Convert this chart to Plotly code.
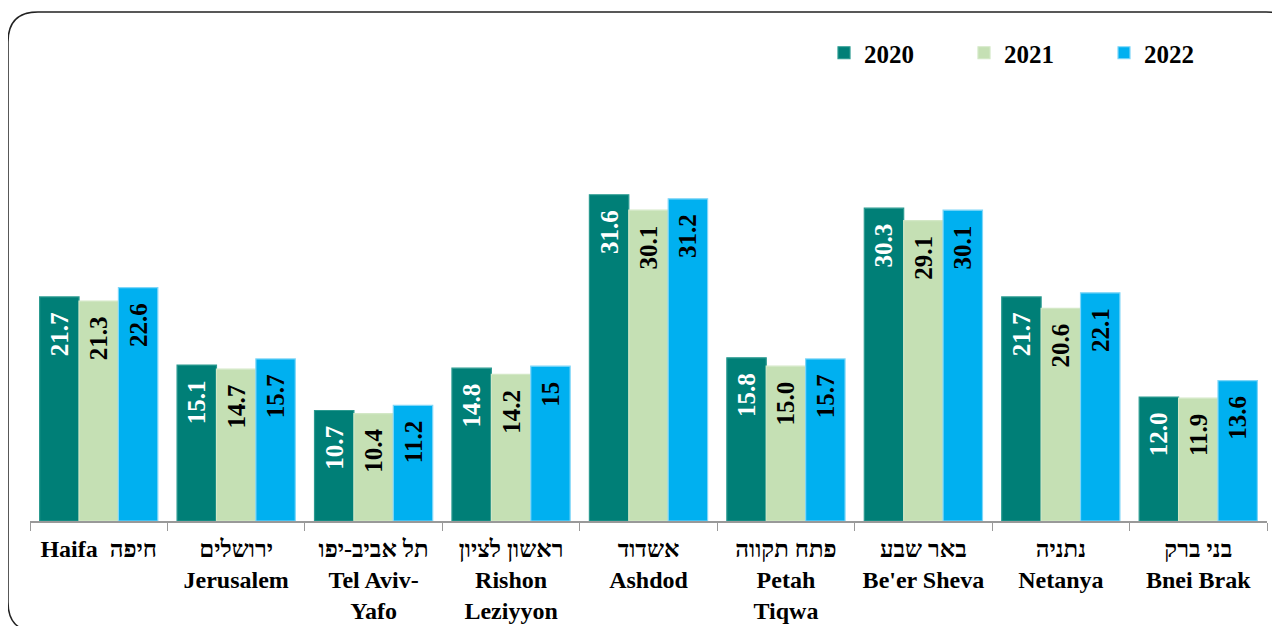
import plotly.graph_objects as go

categories = [
    "Haifa  חיפה",
    "ירושלים<br>Jerusalem",
    "תל אביב-יפו<br>Tel Aviv-<br>Yafo",
    "ראשון לציון<br>Rishon<br>Leziyyon",
    "אשדוד<br>Ashdod",
    "פתח תקווה<br>Petah<br>Tiqwa",
    "באר שבע<br>Be'er Sheva",
    "נתניה<br>Netanya",
    "בני ברק<br>Bnei Brak",
]
years = ["2020", "2021", "2022"]
v2020 = [21.7, 15.1, 10.7, 14.8, 31.6, 15.8, 30.3, 21.7, 12.0]
v2021 = [21.3, 14.7, 10.4, 14.2, 30.1, 15.0, 29.1, 20.6, 11.9]
v2022 = [22.6, 15.7, 11.2, 15.0, 31.2, 15.7, 30.1, 22.1, 13.6]
t2020 = ["21.7", "15.1", "10.7", "14.8", "31.6", "15.8", "30.3", "21.7", "12.0"]
t2021 = ["21.3", "14.7", "10.4", "14.2", "30.1", "15.0", "29.1", "20.6", "11.9"]
t2022 = ["22.6", "15.7", "11.2", "15", "31.2", "15.7", "30.1", "22.1", "13.6"]

colors = ["#007F77", "#C5E0B4", "#00B0F0"]
edge = ["#2A9A90", "#D3E8C6", "#7FD6F8"]
txtcol = ["white", "black", "black"]
FONT = "Liberation Serif, Times New Roman, serif"
TICKFONT = "Liberation Serif, Liberation Sans, DejaVu Sans, serif"

OFF = 8  # page body margin
W, H = 1280, 626
L, R, B, T = 22, 21, 113, 100
pw, ph = W - L - R, H - T - B

fig = go.Figure()
for y, vals, txt, c, e, tc in zip(years, [v2020, v2021, v2022], [t2020, t2021, t2022], colors, edge, txtcol):
    fig.add_trace(go.Bar(
        x=categories, y=vals, name=y,
        text=[s + "\u00a0\u00a0" for s in txt],
        textposition="inside", insidetextanchor="end", textangle=-90,
        textfont=dict(family=FONT, size=25, color=tc, weight="bold"),
        marker=dict(color=c, line=dict(color=e, width=1.2)),
        hoverinfo="skip",
    ))

# page pixel coords -> paper coords
def px(x):
    return (x - OFF - L) / pw

def py(y):
    return (H - B - (y - OFF)) / ph

x0, x1, y0, y1, r = 8, 1296, 12, 632, 30
path = (
    f"M {px(x0 + r)},{py(y0)} L {px(x1 - r)},{py(y0)} Q {px(x1)},{py(y0)} {px(x1)},{py(y0 + r)} "
    f"L {px(x1)},{py(y1 - r)} Q {px(x1)},{py(y1)} {px(x1 - r)},{py(y1)} "
    f"L {px(x0 + r)},{py(y1)} Q {px(x0)},{py(y1)} {px(x0)},{py(y1 - r)} "
    f"L {px(x0)},{py(y0 + r)} Q {px(x0)},{py(y0)} {px(x0 + r)},{py(y0)} Z"
)
fig.add_shape(type="path", path=path, xref="paper", yref="paper",
              line=dict(color="#222222", width=1.5), layer="below")

fig.update_layout(
    width=W, height=H,
    margin=dict(l=L, r=R, t=T, b=B, autoexpand=False),
    paper_bgcolor="white", plot_bgcolor="white",
    barmode="group", bargap=0.14, bargroupgap=0,
    showlegend=True,
    legend=dict(orientation="h", x=px(824), xanchor="left", y=py(53), yanchor="middle",
                font=dict(family=FONT, size=25, color="black", weight="bold"),
                entrywidth=95, entrywidthmode="pixels", itemwidth=30,
                bgcolor="rgba(0,0,0,0)"),
    xaxis=dict(
        type="category", tickson="boundaries", ticks="outside", ticklen=8,
        tickcolor="#999999", showline=True, linecolor="#999999", linewidth=1.5,
        tickfont=dict(family=TICKFONT, size=24, color="black", weight="bold"),
        showgrid=False, tickangle=0, ticklabelstandoff=5,
    ),
    yaxis=dict(range=[0, 40], visible=False, showgrid=False),
)

fig.write_html("out.html")
